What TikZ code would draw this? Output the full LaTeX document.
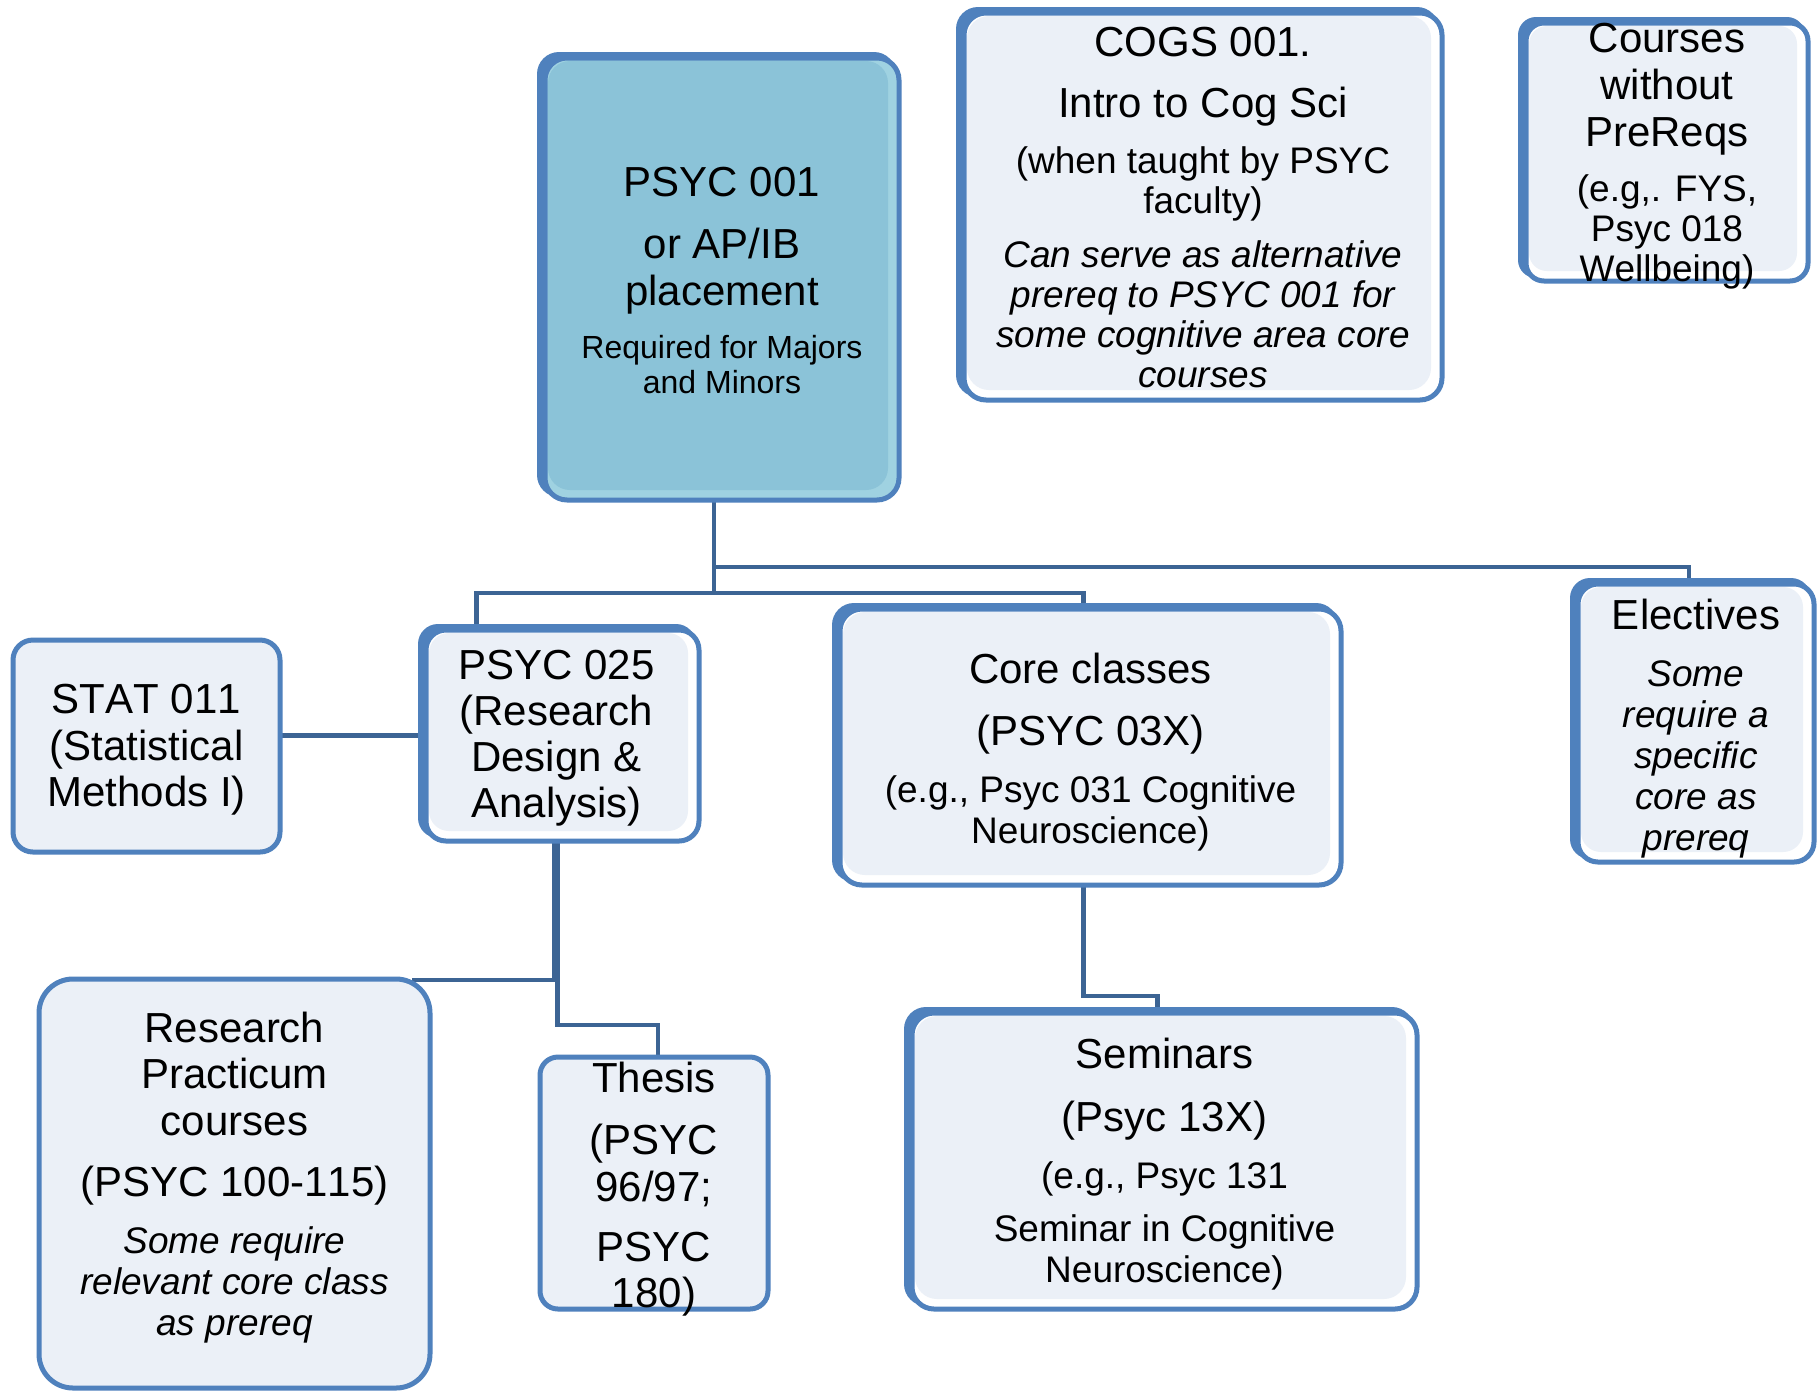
\documentclass[tikz,border=0pt]{standalone}
\usepackage{fontspec}
\setmainfont{Liberation Sans}[Kerning=Off]
\usetikzlibrary{calc}
\definecolor{bcol}{HTML}{4F81BD}
\definecolor{ccol}{HTML}{3C6494}
\definecolor{lfill}{HTML}{EBF0F7}
\definecolor{tfill}{HTML}{8BC3D8}
\definecolor{tband}{HTML}{9FD2E1}
\newcommand{\sz}[2]{\fontsize{#1}{#2}\selectfont\spaceskip=0.278em\relax}
\newcommand{\szA}{\sz{21pt}{23.5pt}}
\newcommand{\szB}{\sz{18.5pt}{20pt}}
\newcommand{\szC}{\sz{16pt}{17.5pt}}
\newcommand{\szD}{\sz{18.5pt}{20.5pt}}
\newcommand{\myline}[1]{\hbox to\hsize{\hss#1\hss}}
\newcommand{\stack}[1]{\vbox{\hsize=500pt #1}}
\pgfdeclarelayer{bg}
\pgfsetlayers{bg,main}
\tikzset{
  anchorbox/.style={inner sep=0pt, outer sep=0pt, shape=rectangle},
  txt/.style={inner sep=0pt, outer sep=0pt},
  conn/.style={draw=ccol, line width=2.2pt},
}
% name x1 y1 x2 y2 fill band radius
\newcommand{\card}[8]{%
  \fill[bcol, rounded corners=#8] (#2-8,#3-6) rectangle (#4-3,#5-3);
  \fill[#7, rounded corners=#8] (#2,#3) rectangle (#4,#5);
  \fill[#6, rounded corners=#8] (#2+3,#3+3) rectangle (#4-11,#5-10);
  \draw[bcol, line width=2.5pt, rounded corners=#8] (#2,#3) rectangle (#4,#5);
  \node[anchorbox, minimum width={(#4-#2)*0.5pt}, minimum height={(#5-#3)*0.5pt}] (#1) at ({(#2+#4)/2},{(#3+#5)/2}) {};
}
% name x1 y1 x2 y2 radius
\newcommand{\plaincard}[6]{%
  \draw[bcol, line width=2.5pt, fill=lfill, rounded corners=#6] (#2,#3) rectangle (#4,#5);
  \node[anchorbox, minimum width={(#4-#2)*0.5pt}, minimum height={(#5-#3)*0.5pt}] (#1) at ({(#2+#4)/2},{(#3+#5)/2}) {};
}
\begin{document}
\begin{tikzpicture}[x=0.5pt, y=-0.5pt]
\useasboundingbox (0,0) rectangle (1820,1393);
\begin{pgfonlayer}{bg}
\fill[white] (0,0) rectangle (1820,1393);
\end{pgfonlayer}

% boxes
\card{psyc001}{545}{58}{899}{500}{tfill}{tband}{11pt}
\card{cogs}{964}{13}{1442}{400}{lfill}{white}{11pt}
\card{courses}{1526}{23}{1808}{281}{lfill}{white}{9pt}
\plaincard{stat}{13}{640}{280}{852}{10pt}
\card{psyc025}{426}{630}{699}{841}{lfill}{white}{10pt}
\card{core}{840}{609}{1341}{885}{lfill}{white}{11pt}
\card{electives}{1578}{584}{1814}{862}{lfill}{white}{10pt}
\plaincard{research}{39}{979}{430}{1388}{17pt}
\plaincard{thesis}{540}{1057}{768}{1309}{9pt}
\card{seminars}{912}{1013}{1417}{1309}{lfill}{white}{11pt}

% connectors
\begin{pgfonlayer}{bg}
\coordinate (jA) at ($(psyc001.south)+(-8,67)$);
\coordinate (jB) at ($(psyc001.south)+(-8,93)$);
\draw[conn] ($(psyc001.south)+(-8,0)$) -- (jB);
\draw[conn] (jA) -| ($(electives.north)+(-7,0)$);
\draw[conn] (jB) -| ($(psyc025.north)+(-86,0)$);
\draw[conn] (jB) -| ($(core.north)+(-7,0)$);
\draw[conn] (psyc025.west) -- (stat.east |- psyc025.west);
\draw[conn] ($(psyc025.south)+(-8,0)$) |- ($(research.north east)+(-18,1)$);
\draw[conn] ($(psyc025.south)+(-5,0)$) |- ($(thesis.north)+(4,-32)$) -- ($(thesis.north)+(4,0)$);
\draw[conn] ($(core.south)+(-7,0)$) |- ($(seminars.north)+(-7,-17)$) -- ($(seminars.north)+(-7,0)$);
\end{pgfonlayer}

% texts
\node[txt] (psyc001t) at ($(psyc001)+(0,1)$) {\stack{\szA\myline{PSYC 001}\vspace{7.5pt}\myline{or AP/IB}\myline{placement}\vspace{9pt}\szC\myline{Required for Majors}\myline{and Minors}}};
\node[txt] (cogst) at ($(cogs)+(0,1)$) {\stack{\szA\myline{COGS 001.}\vspace{7.3pt}\myline{Intro to Cog Sci}\vspace{7.8pt}\szB\myline{(when taught by PSYC}\myline{faculty)}\vspace{7pt}\itshape\myline{Can serve as alternative}\myline{prereq to PSYC 001 for}\myline{some cognitive area core}\myline{courses}}};
\node[txt] (coursest) at ($(courses)+(0,4)$) {\stack{\szA\myline{Courses}\myline{without}\myline{PreReqs}\vspace{7.8pt}\szB\myline{(e.g,. FYS,}\myline{Psyc 018}\myline{Wellbeing)}}};
\node[txt] (statt) at ($(stat)+(0,4)$) {\stack{\sz{21pt}{23.2pt}\myline{STAT 011}\myline{(Statistical}\myline{Methods I)}}};
\node[txt] (psyc025t) at ($(psyc025)+(-6,3)$) {\stack{\sz{21pt}{23pt}\myline{PSYC 025}\myline{(Research}\myline{Design \&}\myline{Analysis)}}};
\node[txt] (coret) at ($(core)+(0,5)$) {\stack{\szA\myline{Core classes}\vspace{7.5pt}\myline{(PSYC 03X)}\vspace{8pt}\szD\myline{(e.g., Psyc 031 Cognitive}\myline{Neuroscience)}}};
\node[txt] (electivest) at ($(electives)+(0,6)$) {\stack{\szA\myline{Electives}\vspace{8pt}\szD\itshape\myline{Some}\myline{require a}\myline{specific}\myline{core as}\myline{prereq}}};
\node[txt] (researcht) at ($(research)+(0,-6)$) {\stack{\sz{21pt}{23.2pt}\myline{Research}\myline{Practicum}\myline{courses}\vspace{7.5pt}\myline{(PSYC 100-115)}\vspace{7.8pt}\szD\itshape\myline{Some require}\myline{relevant core class}\myline{as prereq}}};
\node[txt] (thesist) at ($(thesis)+(0,6)$) {\stack{\szA\myline{Thesis}\vspace{7.5pt}\myline{(PSYC}\myline{96/97;}\vspace{7.5pt}\sz{21pt}{22.6pt}\myline{PSYC}\myline{180)}}};
\node[txt] (seminarst) at ($(seminars)+(0,3)$) {\stack{\szA\myline{Seminars}\vspace{8pt}\myline{(Psyc 13X)}\vspace{8pt}\szD\myline{(e.g., Psyc 131}\vspace{6pt}\myline{Seminar in Cognitive}\myline{Neuroscience)}}};
\end{tikzpicture}
\end{document}
